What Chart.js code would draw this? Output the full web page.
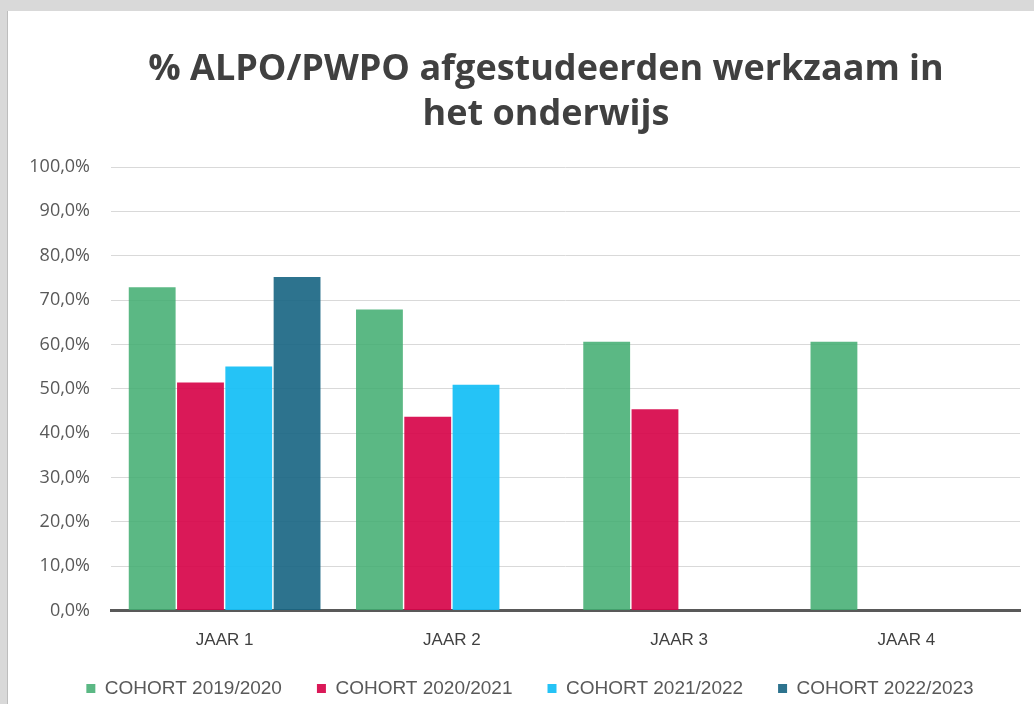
<!DOCTYPE html>
<html>
<head>
<meta charset="utf-8">
<script src="https://cdn.jsdelivr.net/npm/chart.js@4"></script>
<style>
  html, body { margin: 0; padding: 0; background: #d9d9d9; }
  #wrap {
    position: absolute; left: 7px; top: 11px;
    width: 1026px; height: 693px;
    background: #fff; border-left: 1px solid #bdbdbd;
  }
</style>
</head>
<body>
<div id="wrap"><canvas id="grafiek"></canvas></div>
<script>
const jaren = ['JAAR 1', 'JAAR 2', 'JAAR 3', 'JAAR 4'];
const cohort2019 = [72.9, 67.9, 60.6, 60.6];
const cohort2020 = [51.4, 43.7, 45.4, null];
const cohort2021 = [55.0, 50.9, null, null];
const cohort2022 = [75.2, null, null, null];
const yTicks = [0, 10, 20, 30, 40, 50, 60, 70, 80, 90, 100];

const ctx = document.getElementById('grafiek');

// titel en legenda staan in het origineel iets rechts van het midden,
// en de legenda staat dichter onder de as-labels
const verschuif = {
  id: 'verschuif',
  afterLayout(chart) {
    chart.titleBlock.left += 48;
    chart.legend.left += 16;
    chart.legend.top -= 19;
  }
};

new Chart(ctx, {
  type: 'bar',
  data: {
    labels: jaren,
    datasets: [
      { label: 'COHORT 2019/2020', data: cohort2019, backgroundColor: 'rgba(64,172,112,0.86)' },
      { label: 'COHORT 2020/2021', data: cohort2020, backgroundColor: 'rgba(214,0,70,0.9)' },
      { label: 'COHORT 2021/2022', data: cohort2021, backgroundColor: 'rgba(20,190,245,0.93)' },
      { label: 'COHORT 2022/2023', data: cohort2022, backgroundColor: 'rgba(22,100,130,0.9)' }
    ]
  },
  plugins: [verschuif],
  options: {
    responsive: true,
    maintainAspectRatio: false,
    animation: false,
    barPercentage: 0.97,
    categoryPercentage: 0.85,
    layout: { padding: { left: 16, right: 14, top: 0, bottom: -23 } },
    plugins: {
      title: {
        display: true,
        text: ['% ALPO/PWPO afgestudeerden werkzaam in', 'het onderwijs'],
        color: '#404040',
        font: { family: 'Open Sans', size: 36, weight: 'bold', lineHeight: 1.25 },
        padding: { top: 36, bottom: 30 }
      },
      legend: {
        position: 'bottom',
        labels: {
          color: '#595959',
          boxWidth: 9,
          boxHeight: 9,
          padding: 35,
          font: { family: "'Liberation Sans Narrow', 'Liberation Sans'", size: 19 }
        }
      },
      tooltip: { enabled: false }
    },
    scales: {
      x: {
        grid: { display: false },
        border: { color: '#595959', width: 3 },
        ticks: {
          color: '#404040',
          padding: 12,
          font: { family: "'Liberation Sans Narrow', 'Liberation Sans'", size: 17 }
        }
      },
      y: {
        min: 0,
        max: 100,
        afterFit: function (scale) { scale.width = 87; },
        afterBuildTicks: function (scale) {
          scale.ticks = yTicks.map(v => ({ value: v }));
        },
        grid: { color: '#d9d9d9', lineWidth: 1, drawTicks: false },
        border: { display: false },
        ticks: {
          color: '#595959',
          padding: 21,
          font: { family: 'Open Sans', size: 18 },
          callback: v => v.toFixed(1).replace('.', ',') + '%'
        }
      }
    }
  }
});
</script>
</body>
</html>
